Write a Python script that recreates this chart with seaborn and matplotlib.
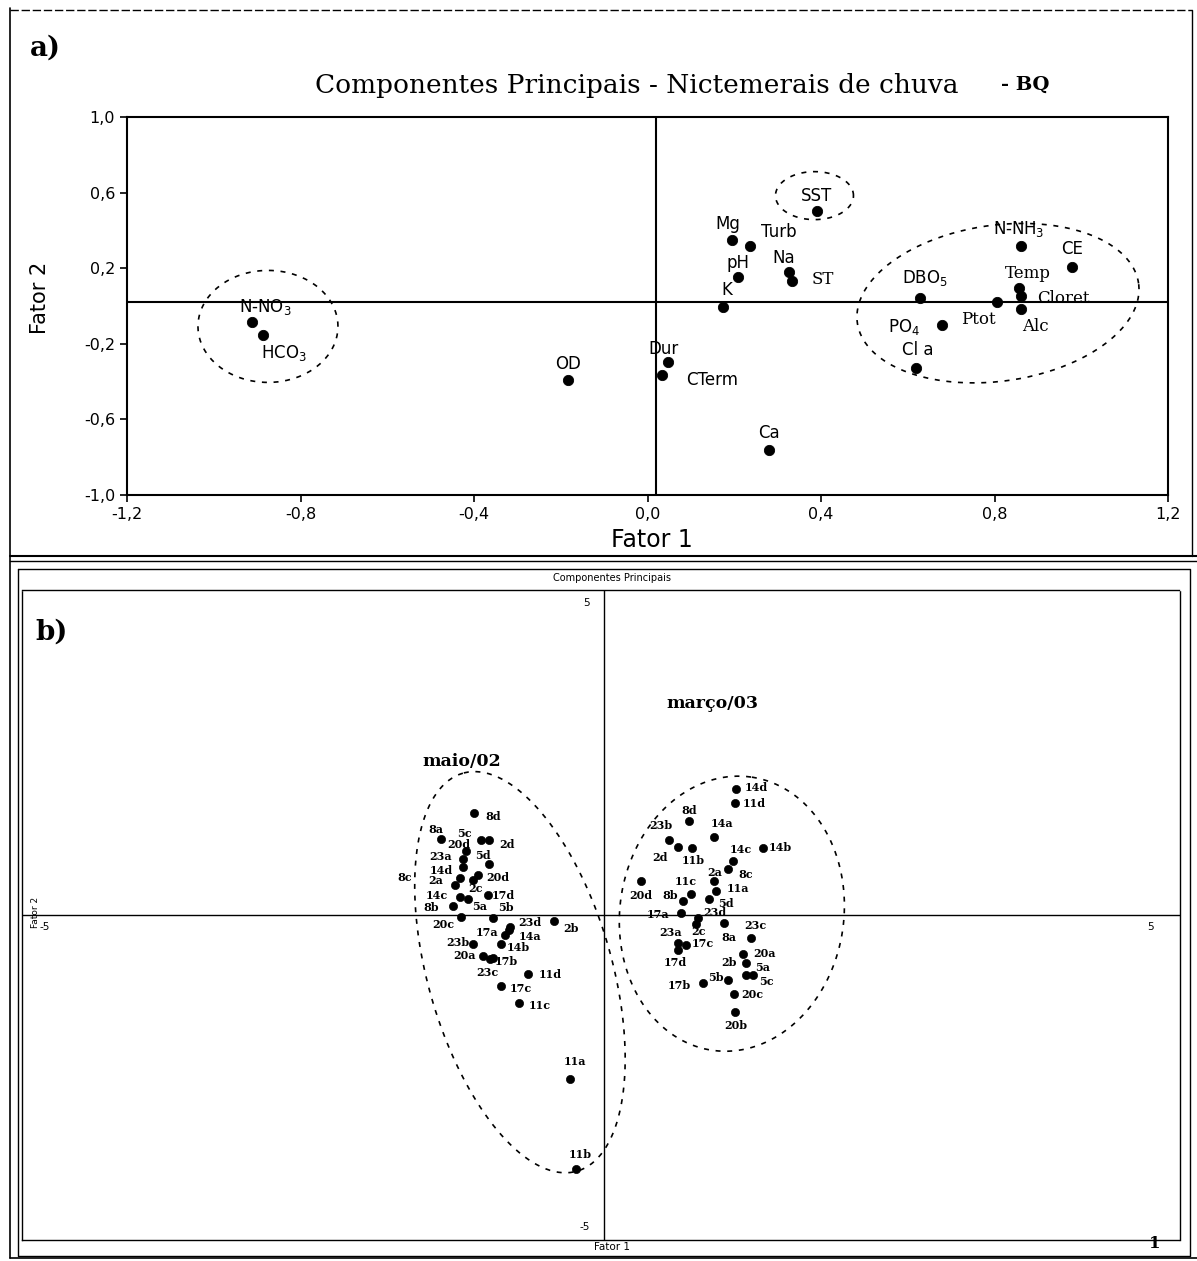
import numpy as np
import pandas as pd
import matplotlib
matplotlib.use("Agg")
import matplotlib.pyplot as plt
import seaborn as sns
from matplotlib.ticker import FuncFormatter, FixedLocator

W, H = 1197, 1261

# -------------------------
# panel a: loadings (Fator 1 x Fator 2)
# -------------------------
var_names = ["N-NO$_3$", "HCO$_3$", "OD", "Dur", "CTerm", "Ca", "K", "pH", "Mg",
             "Turb", "Na", "ST", "SST", "N-NH$_3$", "CE", "Temp", "Cloret", "Alc",
             "DBO$_5$", "Ptot", "PO$_4$", "Cl a"]
fator1 = [-0.912, -0.886, -0.183, 0.048, 0.034, 0.28, 0.173, 0.208, 0.194,
          0.236, 0.327, 0.332, 0.39, 0.862, 0.978, 0.857, 0.862, 0.862,
          0.629, 0.806, 0.68, 0.618]
fator2 = [-0.086, -0.152, -0.391, -0.294, -0.363, -0.76, -0.007, 0.153, 0.35,
          0.318, 0.18, 0.132, 0.50, 0.318, 0.206, 0.094, 0.052, -0.017,
          0.041, 0.02, -0.102, -0.326]
a_ticks_x = [-1.2, -0.8, -0.4, 0.0, 0.4, 0.8, 1.2]
a_ticks_y = [-1.0, -0.6, -0.2, 0.2, 0.6, 1.0]

# label offsets in pixels (right, up)
a_dx = [13, 21, 0, -5, 50, 0, 4, 0, -4, 29, -6, 31, 0, -3, 0, 9, 42, 14, 5, -19, -38, 2]
a_dy = [15, -18, 16, 13, -5, 17, 17, 14, 16, 14, 14, 2, 15, 17, 18, 15, -2, -17, 20, -17, -2, 18]
serif_labels = {"Temp", "Ptot", "Alc", "Cloret", "ST"}

# -------------------------
# panel b: scores
# -------------------------
maio_labels = ["8d", "8a", "5c", "2d", "20d", "23a", "5d", "14d", "20d", "8c", "2c",
               "2a", "14c", "17d", "8b", "5a", "5b", "20c", "23d", "2b", "17a", "14a",
               "23b", "14b", "20a", "17b", "23c", "11d", "17c", "11c", "11a", "11b"]
maio_f1 = [-1.098, -1.379, -1.034, -0.963, -1.164, -1.193, -0.963, -1.193, -1.063, -1.221, -1.106,
           -1.264, -1.221, -0.977, -1.279, -1.149, -0.934, -1.207, -0.790, -0.402, -0.833, -0.796,
           -1.106, -0.862, -1.020, -0.957, -0.934, -0.632, -0.862, -0.704, -0.27, -0.215]
maio_f2 = [1.563, 1.166, 1.151, 1.151, 0.980, 0.867, 0.779, 0.738, 0.619, 0.573, 0.542,
           0.454, 0.284, 0.310, 0.134, 0.248, -0.052, -0.036, -0.181, -0.088, -0.304, -0.232,
           -0.439, -0.439, -0.630, -0.681, -0.655, -0.903, -1.094, -1.352, -2.52, -3.90]
maio_dx = [19, -5, -17, 18, -7, -22, -7, -22, 20, -55, 3, -19, -23, 15, -22, 12, 13, -18, 20, 17,
           -18, 21, -15, 17, -18, 16, -5, 22, 20, 20, 5, 4]
maio_dy = [-3, 10, 7, -4, 7, 2, 9, -3, -3, 0, -9, 5, 1, -1, -1, -8, 11, -7, 4, -8, 2, -6, 1, -4,
           0, -2, -15, -1, -2, -3, 17, 14]

marco_labels = ["14d", "11d", "8d", "14a", "23b", "2d", "11b", "14b", "14c", "8c", "2a", "20d",
                "11c", "8b", "11a", "5d", "17a", "23d", "2c", "8a", "23c", "23a", "17c", "17d",
                "20a", "2b", "5a", "5c", "5b", "17b", "20c", "20b"]
marco_f1 = [1.165, 1.159, 0.757, 0.978, 0.584, 0.662, 0.786, 1.395, 1.136, 1.093, 0.978, 0.346,
            0.777, 0.705, 0.993, 0.935, 0.691, 0.835, 0.820, 1.064, 1.294, 0.662, 0.734, 0.662,
            1.228, 1.251, 1.251, 1.314, 1.093, 0.878, 1.151, 1.159]
marco_f2 = [1.935, 1.723, 1.445, 1.207, 1.161, 1.053, 1.032, 1.032, 0.836, 0.707, 0.516, 0.516,
            0.320, 0.217, 0.372, 0.243, 0.036, -0.041, -0.144, -0.129, -0.351, -0.428, -0.454, -0.531,
            -0.599, -0.738, -0.918, -0.918, -0.996, -1.047, -1.218, -1.496]
marco_dx = [20, 19, 1, 8, -8, -18, 1, 18, 8, 18, 0, 0, -5, -12, 22, 17, -23, 17, 3, 5, 5, -7,
            17, -2, 21, -17, 17, 13, -12, -23, 18, 1]
marco_dy = [2, 0, 11, 13, 14, -11, -13, 0, 11, -5, 9, -14, 13, 5, 2, -4, -2, 5, -7, -14, 12, 10,
            1, -13, 0, 0, 7, -7, 2, -2, 0, -13]


def fmt_comma(v, pos):
    return f"{v:.1f}".replace(".", ",")


def draw_ellipse(ax, cx, cy, a_px, b_px, angle, lw=1.2):
    # ellipse drawn in screen pixels around a data centre
    t = np.linspace(0, 2 * np.pi, 300)
    c = ax.transData.transform((cx, cy))
    ang = np.deg2rad(angle)
    xs = c[0] + a_px * np.cos(t) * np.cos(ang) - b_px * np.sin(t) * np.sin(ang)
    ys = c[1] + a_px * np.cos(t) * np.sin(ang) + b_px * np.sin(t) * np.cos(ang)
    pts = ax.transData.inverted().transform(np.column_stack([xs, ys]))
    ax.plot(pts[:, 0], pts[:, 1], ls=(0, (3, 4)), color="black", lw=lw)


sns.set_style("white")
plt.rcParams["font.family"] = ["DejaVu Sans"]
plt.rcParams["text.color"] = "black"
plt.rcParams["axes.labelcolor"] = "black"
plt.rcParams["xtick.color"] = "black"
plt.rcParams["ytick.color"] = "black"

fig = plt.figure(figsize=(W / 100, H / 100), dpi=100)

# overlay for frames and free text (pixel coordinates)
ov = fig.add_axes([0, 0, 1, 1])
ov.set_xlim(0, W)
ov.set_ylim(H, 0)
ov.axis("off")
ov.set_zorder(10)
ov.plot([10, 10], [8, 1258], color="black", lw=1.2)
ov.plot([10, 1192], [10, 10], color="black", lw=1.0, ls=(0, (6, 2)))
ov.plot([1192, 1192], [10, 556], color="black", lw=1.0)
ov.plot([10, 1197], [556, 556], color="black", lw=1.5)
ov.plot([10, 1197], [561, 561], color="black", lw=1.0)
ov.plot([18, 1190, 1190, 18, 18], [569, 569, 1256, 1256, 569], color="black", lw=1.0)
ov.plot([10, 1197], [1258, 1258], color="black", lw=1.2)

ov.text(45, 48, "a)", fontsize=20, fontweight="bold", family="DejaVu Serif", ha="center", va="center")
ov.text(52, 632, "b)", fontsize=20, fontweight="bold", family="DejaVu Serif", ha="center", va="center")
ov.text(637, 85, "Componentes Principais - Nictemerais de chuva", fontsize=19,
        family="DejaVu Serif", ha="center", va="center")
ov.text(1025, 85, "- BQ", fontsize=14, fontweight="bold", family="DejaVu Serif", ha="center", va="center")
ov.text(652, 540, "Fator 1", fontsize=17, ha="center", va="center")
ov.text(40, 298, "Fator 2", fontsize=15, rotation=90, ha="center", va="center")
ov.text(612, 578, "Componentes Principais", fontsize=7, ha="center", va="center")
ov.text(35, 912, "Fator 2", fontsize=6.5, rotation=90, ha="center", va="center")
ov.text(612, 1247, "Fator 1", fontsize=7.5, ha="center", va="center")
ov.text(1155, 1243, "1", fontsize=12, fontweight="bold", family="DejaVu Serif", ha="center", va="center")
ov.text(712, 703, "março/03", fontsize=12.5, fontweight="bold", family="DejaVu Serif", ha="center", va="center")
ov.text(462, 762, "maio/02", fontsize=12.5, fontweight="bold", family="DejaVu Serif", ha="center", va="center")

# -------------------------
# panel a
# -------------------------
axa = fig.add_axes([127 / W, 1 - 495 / H, 1041 / W, 378 / H])
df_a = pd.DataFrame({"var": var_names, "f1": fator1, "f2": fator2})
sns.scatterplot(data=df_a, x="f1", y="f2", color="black", s=55, edgecolor="black",
                legend=False, ax=axa, zorder=3)
axa.set_xlim(-1.2, 1.2)
axa.set_ylim(-1.0, 1.0)
axa.axvline(0.02, color="black", lw=1.5)
axa.axhline(0.02, color="black", lw=1.5)
axa.xaxis.set_major_locator(FixedLocator(a_ticks_x))
axa.yaxis.set_major_locator(FixedLocator(a_ticks_y))
axa.xaxis.set_major_formatter(FuncFormatter(fmt_comma))
axa.yaxis.set_major_formatter(FuncFormatter(fmt_comma))
axa.tick_params(direction="out", length=5, width=1.2, labelsize=11.5, bottom=True, left=True)
axa.set_xlabel("")
axa.set_ylabel("")
for s in axa.spines.values():
    s.set_color("black")
    s.set_linewidth(1.5)

for name, x, y, dx, dy in zip(var_names, fator1, fator2, a_dx, a_dy):
    fam = "DejaVu Serif" if name in serif_labels else "DejaVu Sans"
    axa.annotate(name, (x, y), xytext=(dx * 0.72, dy * 0.72), textcoords="offset points",
                 ha="center", va="center", fontsize=12, family=fam)

draw_ellipse(axa, -0.875, -0.108, 70, 56, 0)
draw_ellipse(axa, 0.385, 0.584, 39, 24, 0)
draw_ellipse(axa, 0.808, 0.015, 142, 78, 8)

# -------------------------
# panel b
# -------------------------
axb = fig.add_axes([22 / W, 1 - 1240 / H, 1158 / W, 650 / H])
df_b = pd.concat([
    pd.DataFrame({"lab": maio_labels, "f1": maio_f1, "f2": maio_f2, "grupo": "maio/02"}),
    pd.DataFrame({"lab": marco_labels, "f1": marco_f1, "f2": marco_f2, "grupo": "março/03"}),
], ignore_index=True)
sns.scatterplot(data=df_b, x="f1", y="f2", color="black", s=35, edgecolor="black",
                legend=False, ax=axb, zorder=3)
axb.set_xlim(-5, 5)
axb.set_ylim(-5, 5)
axb.axvline(0.03, color="black", lw=1.0)
axb.axhline(0, color="black", lw=1.0)
axb.set_xticks([])
axb.set_yticks([])
axb.set_xlabel("")
axb.set_ylabel("")
for s in axb.spines.values():
    s.set_linestyle((0, (1, 1)))
    s.set_linewidth(1.0)
    s.set_color("black")

axb.text(-0.1, 4.8, "5", fontsize=7.5, ha="right", va="center")
axb.text(-0.1, -4.8, "-5", fontsize=7.5, ha="right", va="center")
axb.text(-4.85, -0.18, "-5", fontsize=7.5, ha="left", va="center")
axb.text(4.72, -0.18, "5", fontsize=7.5, ha="left", va="center")

labs = maio_labels + marco_labels
dxs = maio_dx + marco_dx
dys = maio_dy + marco_dy
for lab, x, y, dx, dy in zip(labs, df_b["f1"], df_b["f2"], dxs, dys):
    axb.annotate(lab, (x, y), xytext=(dx * 0.72, dy * 0.72), textcoords="offset points",
                 ha="center", va="center", fontsize=8, fontweight="bold", family="DejaVu Serif")

draw_ellipse(axb, -0.70, -0.88, 207, 92, 106)
draw_ellipse(axb, 1.13, 0.02, 138, 112, 82)

fig.savefig("out.png", dpi=100)
